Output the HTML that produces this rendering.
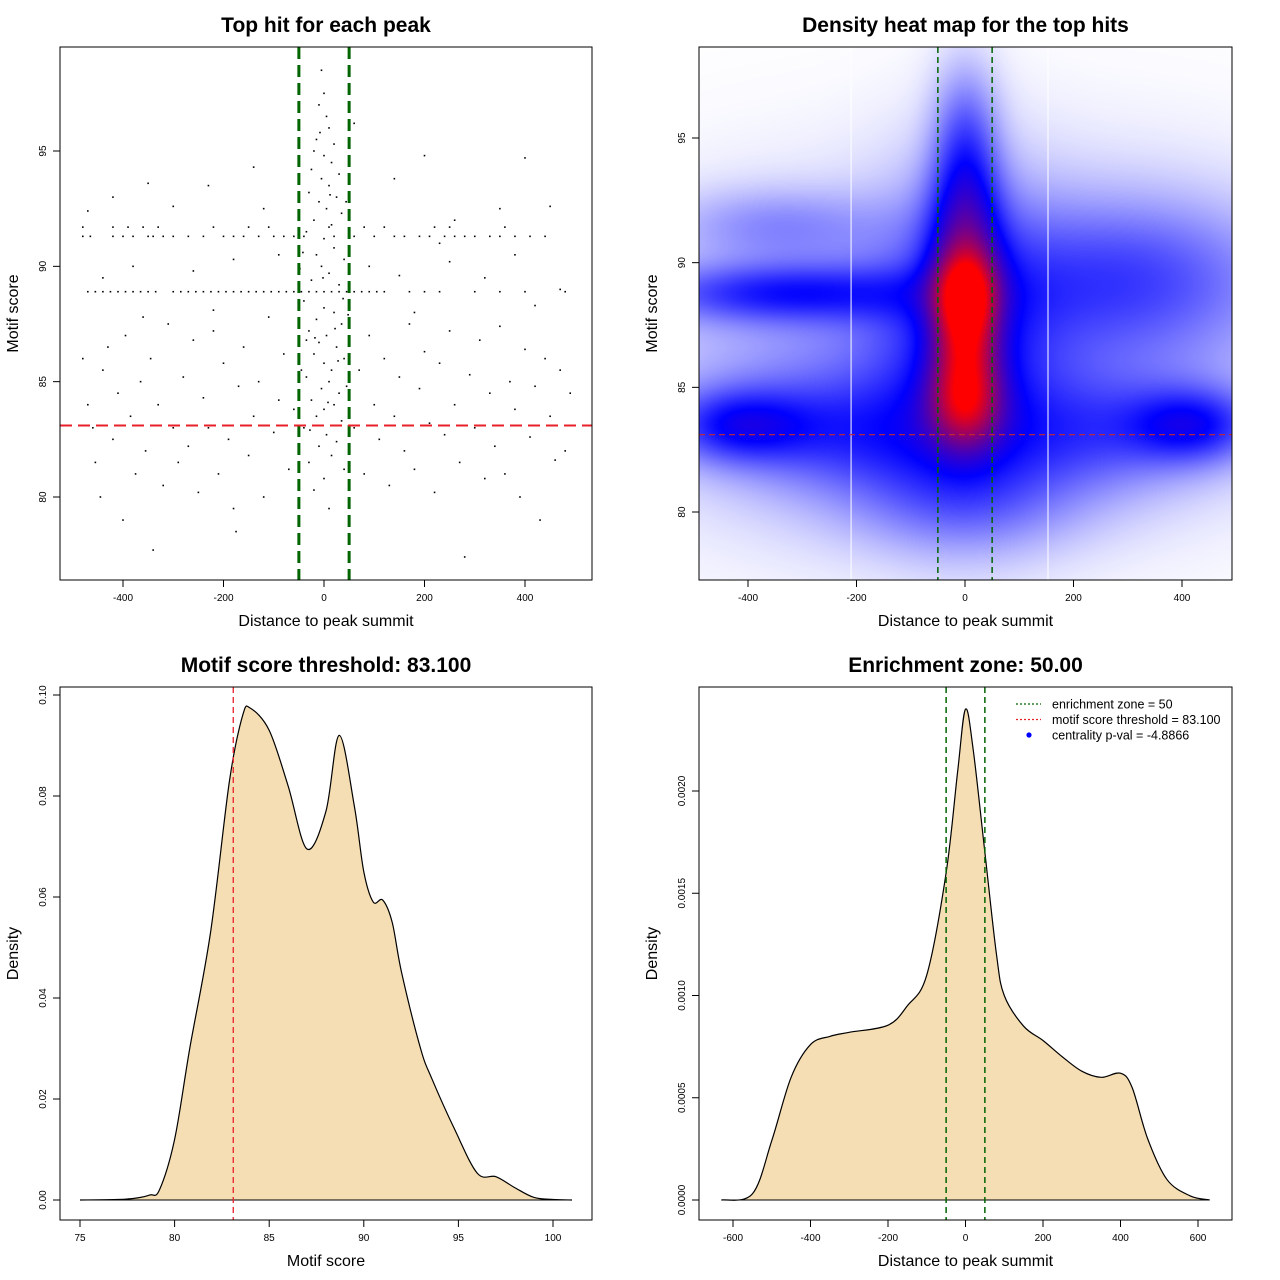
<!DOCTYPE html>
<html><head><meta charset="utf-8">
<style>
html,body{margin:0;padding:0;background:#fff;}
#wrap{position:relative;width:1280px;height:1280px;overflow:hidden;}
svg{position:absolute;left:0;top:0;}
text{font-family:"Liberation Sans",sans-serif;fill:#000;}
</style></head>
<body>
<div id="wrap">
<canvas id="heat" width="533" height="533" style="position:absolute;left:699px;top:47px;"></canvas>
<svg id="svg" width="1280" height="1280" xmlns="http://www.w3.org/2000/svg"></svg>
</div>
<script>
// ---------- data ----------
const scatterX = [-470,-455,-440,-425,-410,-395,-380,-365,-350,-335,-300,-285,-270,-255,-240,-225,-210,-195,-180,-165,-150,-135,-120,-105,-90,-75,-60,-45,-30,-15,0,15,30,45,60,75,90,105,120,170,200,230,300,350,400,480,
-480,-465,-420,-400,-380,-350,-340,-320,-300,-270,-240,-200,-180,-160,-130,-100,-80,-60,-40,20,60,100,140,160,190,210,240,260,280,300,330,350,380,410,440,
-480,-420,-390,-360,-330,-220,-150,-110,10,80,120,220,250,360,
-5,0,-10,5,10,-15,20,-20,0,15,-25,30,-5,10,-30,25,-10,5,35,-20,15,-35,0,20,-15,40,-5,10,-25,30,-40,0,20,-15,35,-30,5,-10,25,-20,40,0,15,-35,10,-5,30,-25,20,0,-15,35,-40,5,25,-10,15,-30,40,0,-20,10,-35,-45,45,38,-42,12,-8,22,-18,8,-28,28,-2,44,-48,48,
-480,-470,-460,-455,-445,-440,-430,-420,-410,-400,-395,-385,-375,-365,-355,-345,-340,-330,-320,-310,-300,-290,-280,-270,-260,-250,-240,-230,-220,-210,-200,-190,-180,-170,-160,-150,-140,-130,-120,-110,-100,-90,-80,-70,-60,-175,-230,-300,-350,-420,-140,-440,-380,-260,-180,-90,-360,-220,-470,-120,
60,70,80,90,100,110,120,130,140,150,160,170,180,190,200,210,220,230,240,250,260,270,280,290,300,310,320,330,340,350,360,370,380,390,400,410,420,430,440,450,460,470,480,490,140,200,260,350,400,450,150,250,320,420,470,90,180,230,380,60];
const scatterY = [88.9,88.9,88.9,88.9,88.9,88.9,88.9,88.9,88.9,88.9,88.9,88.9,88.9,88.9,88.9,88.9,88.9,88.9,88.9,88.9,88.9,88.9,88.9,88.9,88.9,88.9,88.9,88.9,88.9,88.9,88.9,88.9,88.9,88.9,88.9,88.9,88.9,88.9,88.9,88.9,88.9,88.9,88.9,88.9,88.9,88.9,
91.3,91.3,91.3,91.3,91.3,91.3,91.3,91.3,91.3,91.3,91.3,91.3,91.3,91.3,91.3,91.3,91.3,91.3,91.3,91.3,91.3,91.3,91.3,91.3,91.3,91.3,91.3,91.3,91.3,91.3,91.3,91.3,91.3,91.3,91.3,
91.7,91.7,91.7,91.7,91.7,91.7,91.7,91.7,91.7,91.7,91.7,91.7,91.7,91.7,
98.5,97.5,97,96.5,96,95.5,95.3,95,94.8,94.5,94.2,94,93.8,93.5,93.2,93,92.8,92.5,92.3,92,91.8,91.5,91.2,90.8,90.5,90.3,90,89.7,89.4,89.2,88.5,88.2,88,87.7,87.5,87.2,87,86.7,86.5,86.2,86,85.8,85.5,85.2,85,84.7,84.5,84.2,84,83.8,83.5,83.3,83,82.7,82.4,82.2,81.8,81.5,81.2,80.8,80.3,79.5,86.8,85.5,84.8,88.6,90.6,93.1,95.8,87.3,86.9,84.1,82.9,85.9,89.5,92.8,89.9,87.9,
86,84,83,81.5,80,85.5,86.5,82.5,84.5,79,87,83.5,81,85,82,86,77.7,84,80.5,87.5,83,81.5,85.2,82.2,86.8,80.2,84.3,83,87.2,81,85.8,82.5,79.5,84.8,86.5,81.8,83.5,85,80,87.8,82.8,84.2,86.2,81.2,83.8,78.5,93.5,92.6,93.6,93,94.3,89.5,90,89.8,90.3,90.5,87.8,88.1,92.4,92.5,
83,85.5,81,87,84,82.5,86,80.5,83.5,85.2,82,87.5,81.2,84.7,86.3,83.2,80.2,85.8,82.7,87.2,84,81.5,77.4,85.3,83,86.8,80.8,84.5,82.2,87.4,81,85,83.8,80,86.4,82.6,84.8,79,86,83.5,81.6,85.5,82,84.5,93.8,94.8,92,92.5,94.7,92.6,89.6,90.2,89.5,88.3,89,90,88,91,90.5,96.2];
// heatmap density components: centre x, centre y, spread x, spread y, weight
const blobX  = [0,0,0,0,0,0,-330,300,-420,420,-200,220,-250,250,-350,0];
const blobY  = [88.7,84.5,86.6,91.5,95,87,88.8,89.5,83.5,83.5,83.2,83.2,86,87,91.5,80.5];
const blobSX = [40,45,40,45,40,110,180,180,90,80,160,160,250,250,130,150];
const blobSY = [1.3,1.3,1.2,2,2,4,0.8,2,1.0,1.0,1.6,1.6,4,4,1,1.5];
const blobW  = [0.75,0.6,0.35,0.35,0.2,0.25,0.3,0.2,0.3,0.3,0.22,0.2,0.12,0.12,0.12,0.15];
// motif score density
const scoreX = [75,77,78,78.7,79.2,80,80.8,81.9,82.9,83.6,84,85,86,87,88,88.7,89.5,90,90.5,91,91.5,92,93,93.6,94.8,96,97,98,99,100,101];
const scoreD = [0,0.0001,0.0004,0.001,0.002,0.012,0.03,0.053,0.083,0.096,0.0974,0.093,0.082,0.0695,0.077,0.092,0.078,0.065,0.059,0.0594,0.055,0.045,0.03,0.024,0.014,0.0053,0.0046,0.0024,0.0005,0.0001,0];
// distance density
const distX = [-630,-550,-500,-450,-400,-350,-300,-200,-150,-100,-50,-20,0,20,50,80,100,150,200,250,300,350,400,430,470,520,580,630];
const distD = [0,0.00003,0.00029,0.0006,0.00076,0.0008,0.00082,0.000855,0.00095,0.0011,0.0016,0.0021,0.00240,0.0022,0.0017,0.0012,0.001,0.00085,0.00078,0.0007,0.00063,0.0006,0.00062,0.00055,0.0003,0.0001,0.00002,0];
const p1XTicks=[-400,-200,0,200,400], p1YTicks=[80,85,90,95];
const p2XTicks=[-400,-200,0,200,400], p2YTicks=[80,85,90,95];
const p3XTicks=[75,80,85,90,95,100], p3YTicks=[0,0.02,0.04,0.06,0.08,0.1];
const p3YLabels=["0.00","0.02","0.04","0.06","0.08","0.10"];
const p4XTicks=[-600,-400,-200,0,200,400,600], p4YTicks=[0,0.0005,0.001,0.0015,0.002];
const p4YLabels=["0.0000","0.0005","0.0010","0.0015","0.0020"];
const zone=50, threshold=83.1;

// ---------- helpers ----------
const svg=document.getElementById('svg');
const NS='http://www.w3.org/2000/svg';
function mk(tag,attrs,parent){const e=document.createElementNS(NS,tag);for(const k in attrs)e.setAttribute(k,attrs[k]);(parent||svg).appendChild(e);return e;}
function lin(d0,d1,r0,r1){return v=>r0+(v-d0)*(r1-r0)/(d1-d0);}
function smoothPath(pts){let d='M'+pts[0][0]+','+pts[0][1];for(let i=0;i<pts.length-1;i++){const p0=pts[i-1]||pts[i],p1=pts[i],p2=pts[i+1],p3=pts[i+2]||p2;const c1=[p1[0]+(p2[0]-p0[0])/6,p1[1]+(p2[1]-p0[1])/6],c2=[p2[0]-(p3[0]-p1[0])/6,p2[1]-(p3[1]-p1[1])/6];d+=` C${c1[0]},${c1[1]} ${c2[0]},${c2[1]} ${p2[0]},${p2[1]}`;}return d;}
function axes(box,sx,sy,xt,yt,ylab,xtitle,ytitle,title,name){
  const g=mk('g',{});
  
  
  xt.forEach(v=>{const x=sx(v);mk('line',{x1:x,x2:x,y1:box.b,y2:box.b+7,stroke:'#000'},g);const t=mk('text',{x:x,y:box.b+21,'font-size':10,'text-anchor':'middle'},g);t.textContent=v;});
  yt.forEach((v,i)=>{const y=sy(v);mk('line',{x1:box.l-7,x2:box.l,y1:y,y2:y,stroke:'#000'},g);const t=mk('text',{x:box.l-14,y:y,'font-size':10,'text-anchor':'middle',transform:`rotate(-90 ${box.l-14} ${y})`},g);t.textContent=ylab?ylab[i]:v;});
  const xtl=mk('text',{x:(box.l+box.r)/2,y:box.b+46,'font-size':16,'text-anchor':'middle'},g);xtl.textContent=xtitle;
  
  const ytl=mk('text',{x:box.l-42,y:(box.t+box.b)/2,'font-size':16,'text-anchor':'middle',transform:`rotate(-90 ${box.l-42} ${(box.t+box.b)/2})`},g);ytl.textContent=ytitle;
  
  const tt=mk('text',{x:(box.l+box.r)/2,y:box.t-15,'font-size':21,'font-weight':'bold','text-anchor':'middle'},g);tt.textContent=title;
  
}
function frame(box,name){const r=mk('rect',{x:box.l,y:box.t,width:box.r-box.l,height:box.b-box.t,fill:'none',stroke:'#000'});}
function clip(id,box){const c=mk('clipPath',{id:id});mk('rect',{x:box.l,y:box.t,width:box.r-box.l,height:box.b-box.t},c);}

// ---------- panel 1 scatter ----------
const b1={l:60,r:592,t:47,b:580};
const s1x=lin(0,400,324,525), s1y=lin(80,95,497,151);
clip('c1',b1);
const g1=mk('g',{'clip-path':'url(#c1)'});


for(let i=0;i<scatterX.length;i++){mk('rect',{x:s1x(scatterX[i])-0.8,y:s1y(scatterY[i])-0.8,width:1.6,height:1.6,fill:'#000'},g1);}
[-zone,zone].forEach(v=>{const l=mk('line',{x1:s1x(v),x2:s1x(v),y1:b1.t,y2:b1.b,stroke:'#006400','stroke-width':3,'stroke-dasharray':'12,6'},g1);});
{const l=mk('line',{x1:b1.l,x2:b1.r,y1:s1y(threshold),y2:s1y(threshold),stroke:'#e8202a','stroke-width':2,'stroke-dasharray':'12,6'},g1);}
frame(b1,'scatter');
axes(b1,s1x,s1y,p1XTicks,p1YTicks,null,'Distance to peak summit','Motif score','Top hit for each peak','scatter');

// ---------- panel 2 heatmap ----------
const b2={l:699,r:1232,t:47,b:580};
const s2x=lin(0,400,965,1182), s2y=lin(80,95,512,138);
(function(){
  const cv=document.getElementById('heat'),ctx=cv.getContext('2d');const W=533,H=533;const img=ctx.createImageData(W,H);
  const ix=lin(965-699,1182-699,0,400), iy=lin(512-47,138-47,80,95);
  for(let py=0;py<H;py++){const y=iy(py);for(let px=0;px<W;px++){const x=ix(px);let d=0;
    for(let k=0;k<blobX.length;k++){const dx=(x-blobX[k])/blobSX[k],dy=(y-blobY[k])/blobSY[k];d+=blobW[k]*Math.exp(-0.5*(dx*dx+dy*dy));}
    let t=Math.min(1,d/1.1),r,g,b;
    if(t<0.38){const u=Math.pow(t/0.38,0.8);r=255*(1-u);g=255*(1-u);b=255;}else{const u=(t-0.38)/0.62;r=255*u;g=0;b=255*(1-u);}
    const o=(py*W+px)*4;img.data[o]=r;img.data[o+1]=g;img.data[o+2]=b;img.data[o+3]=255;}}
  ctx.putImageData(img,0,0);
})();
clip('c2',b2);
const g2=mk('g',{'clip-path':'url(#c2)'});
[-210,153].forEach(v=>mk('line',{x1:s2x(v),x2:s2x(v),y1:b2.t,y2:b2.b,stroke:'#fff','stroke-width':1},g2));
[-zone,zone].forEach(v=>{const l=mk('line',{x1:s2x(v),x2:s2x(v),y1:b2.t,y2:b2.b,stroke:'#006400','stroke-width':1.5,'stroke-dasharray':'6,4'},g2);});
{const l=mk('line',{x1:b2.l,x2:b2.r,y1:s2y(threshold),y2:s2y(threshold),stroke:'#c8282a','stroke-width':1.2,'stroke-dasharray':'6,4'},g2);}
frame(b2,'heatmap');
axes(b2,s2x,s2y,p2XTicks,p2YTicks,null,'Distance to peak summit','Motif score','Density heat map for the top hits','heatmap');

// ---------- panel 3 score density ----------
const b3={l:60,r:592,t:687,b:1220};
const s3x=lin(75,100,80,553), s3y=lin(0,0.1,1200,695);
clip('c3',b3);
const g3=mk('g',{'clip-path':'url(#c3)'});
{const pts=scoreX.map((v,i)=>[s3x(v),s3y(scoreD[i])]);const d=smoothPath(pts);
 const a=mk('path',{d:d+' Z',fill:'#f5deb3',stroke:'none'},g3);
 const l=mk('path',{d:d,fill:'none',stroke:'#000','stroke-width':1.2},g3);
 mk('line',{x1:s3x(scoreX[0]),x2:s3x(scoreX[scoreX.length-1]),y1:s3y(0),y2:s3y(0),stroke:'#000'},g3);}
{const l=mk('line',{x1:s3x(threshold),x2:s3x(threshold),y1:b3.t,y2:b3.b,stroke:'#e8202a','stroke-width':1.3,'stroke-dasharray':'6,4'},g3);}
frame(b3,'score-density');
axes(b3,s3x,s3y,p3XTicks,p3YTicks,p3YLabels,'Motif score','Density','Motif score threshold: 83.100','score-density');

// ---------- panel 4 distance density ----------
const b4={l:699,r:1232,t:687,b:1220};
const s4x=lin(-600,600,733,1198), s4y=lin(0,0.002,1200,791);
clip('c4',b4);
const g4=mk('g',{'clip-path':'url(#c4)'});
{const pts=distX.map((v,i)=>[s4x(v),s4y(distD[i])]);const d=smoothPath(pts);
 const a=mk('path',{d:d+' Z',fill:'#f5deb3',stroke:'none'},g4);
 const l=mk('path',{d:d,fill:'none',stroke:'#000','stroke-width':1.2},g4);
 mk('line',{x1:s4x(distX[0]),x2:s4x(distX[distX.length-1]),y1:s4y(0),y2:s4y(0),stroke:'#000'},g4);}
[-zone,zone].forEach(v=>{const l=mk('line',{x1:s4x(v),x2:s4x(v),y1:b4.t,y2:b4.b,stroke:'#006400','stroke-width':1.5,'stroke-dasharray':'6,4'},g4);});
frame(b4,'distance-density');
axes(b4,s4x,s4y,p4XTicks,p4YTicks,p4YLabels,'Distance to peak summit','Density','Enrichment zone: 50.00','distance-density');
// legend
const lg=mk('g',{});


const legItems=[['line','#006400','enrichment zone = 50'],['line','#e8202a','motif score threshold = 83.100'],['dot','#0000ff','centrality p-val = -4.8866']];
legItems.forEach((it,i)=>{const y=704+i*15.5;
  if(it[0]==='line')mk('line',{x1:1016,x2:1041,y1:y,y2:y,stroke:it[1],'stroke-width':1.2,'stroke-dasharray':'2,2'},lg);
  else mk('circle',{cx:1029,cy:y,r:2.6,fill:it[1]},lg);
  const t=mk('text',{x:1052,y:y+4.5,'font-size':12.5},lg);t.textContent=it[2];
  });
</script>
</body></html>
